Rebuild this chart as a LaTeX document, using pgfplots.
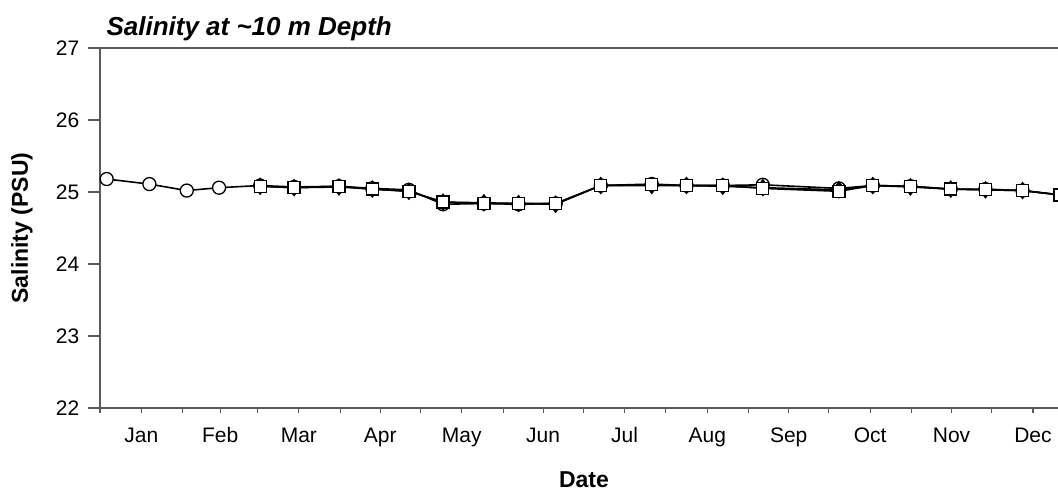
\documentclass[border=0pt]{standalone}
\usepackage{fontspec}
\setmainfont{Liberation Sans}
\usepackage{pgfplots}
\pgfplotsset{compat=1.18}
\definecolor{axisgray}{HTML}{5A5A5A}

% day of year vs salinity (PSU), three overlapping records
\begin{document}
\begin{tikzpicture}
\path[use as bounding box] (-100pt,-87pt) rectangle (958pt,408pt);
\begin{axis}[
  at={(0,0)}, anchor=south west,
  scale only axis, width=961pt, height=360pt,
  xmin=0, xmax=360, ymin=22, ymax=27,
  axis line style={axisgray, line width=1.3pt},
  tick style={axisgray, line width=1.1pt},
  tick align=outside, tick pos=left,
  ytick={22,23,24,25,26,27},
  xtick={0,31,59,90,120,151,181,212,243,273,304,334},
  xticklabels={},
  xtick style={/pgfplots/major tick length=5pt},
  ytick style={/pgfplots/major tick length=12pt},
  extra x ticks={15.5,45,74.5,105,135.5,166,196.5,227.5,258,288.5,319,349.5},
  extra x tick labels={Jan,Feb,Mar,Apr,May,Jun,Jul,Aug,Sep,Oct,Nov,Dec},
  extra x tick style={/pgfplots/major tick length=0pt,
    tick label style={anchor=base, yshift=-35pt}},
  /pgf/number format/assume math mode=true,
  tick label style={font=\fontsize{21}{25}\selectfont, black},
  yticklabel style={xshift=-13pt},
  xlabel={Date},
  ylabel={Salinity (PSU)},
  xlabel style={at={(axis description cs:0.5,0)}, anchor=base,
    yshift=-79pt, xshift=3.5pt, font=\fontsize{23}{27}\selectfont\bfseries},
  ylabel style={at={(axis description cs:0,0.5)}, anchor=center,
    rotate=0, yshift=78pt, font=\fontsize{23}{27}\selectfont\bfseries},
  title={Salinity at \textasciitilde10 m Depth},
  title style={at={(axis description cs:0,1)}, anchor=base west,
    xshift=3pt, yshift=7pt,
    font=\fontsize{26}{30}\selectfont\bfseries\itshape},
]
\addplot[black, line width=1.6pt, mark=*, mark size=6.5pt,
  mark options={fill=white, draw=black, line width=1.3pt}]
  table {
  2.5   25.18
  18.5  25.11
  32.5  25.02
  44.6  25.06
  60    25.09
  72.7  25.07
  89.5  25.08
  102   25.05
  115.7 25.03
  128.5 24.83
  143.8 24.84
  156.8 24.83
  170.7 24.84
  187.6 25.09
  206.7 25.11
  219.7 25.09
  233.3 25.09
  248.3 25.10
  276.8 25.05
  289.5 25.09
  303.6 25.08
  318.7 25.04
  331.7 25.04
  345.6 25.02
  359.6 24.96
  };
\addplot[black, line width=1.6pt, mark=diamond*, mark size=8.5pt,
  mark options={fill=black, draw=black, line width=0.5pt}]
  table {
  60    25.08
  72.7  25.06
  89.5  25.07
  102   25.04
  115.7 25.01
  128.5 24.86
  143.8 24.85
  156.8 24.84
  170.7 24.83
  187.6 25.09
  206.7 25.09
  219.7 25.09
  233.3 25.08
  248.3 25.06
  276.8 25.03
  289.5 25.09
  303.6 25.07
  318.7 25.04
  331.7 25.03
  345.6 25.02
  359.6 24.96
  };
\addplot[black, line width=1.6pt, mark=square*, mark size=6pt,
  mark options={fill=white, draw=black, line width=1.3pt}]
  table {
  60    25.08
  72.7  25.06
  89.5  25.08
  102   25.04
  115.7 25.01
  128.5 24.86
  143.8 24.84
  156.8 24.84
  170.7 24.84
  187.6 25.09
  206.7 25.10
  219.7 25.09
  233.3 25.09
  248.3 25.05
  276.8 25.01
  289.5 25.09
  303.6 25.08
  318.7 25.04
  331.7 25.03
  345.6 25.02
  359.6 24.96
  };
\end{axis}
\end{tikzpicture}
\end{document}
